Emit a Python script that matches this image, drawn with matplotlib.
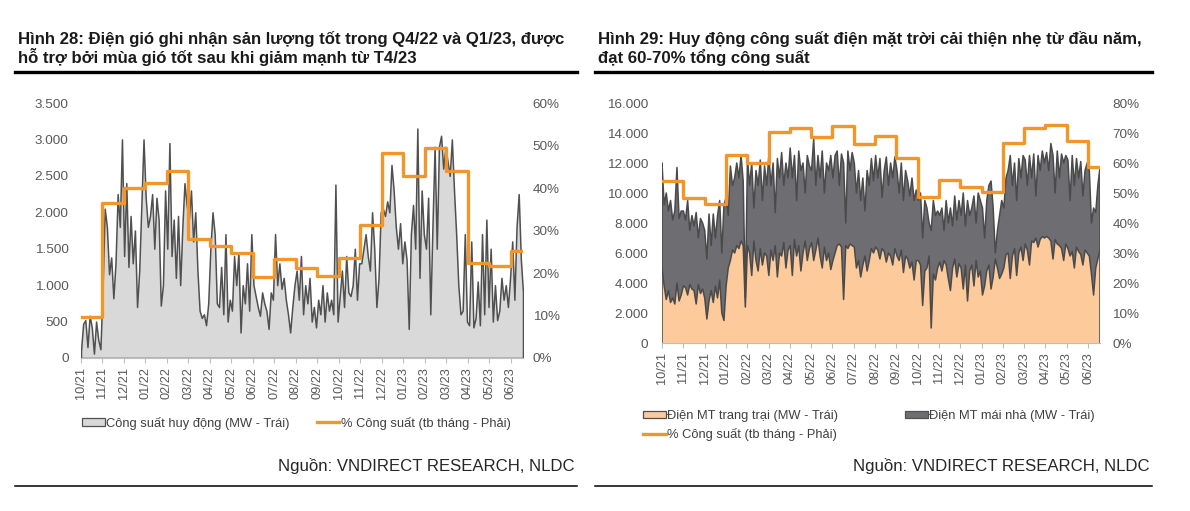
import numpy as np
import matplotlib
matplotlib.use("Agg")
import matplotlib.pyplot as plt
from matplotlib.lines import Line2D
from matplotlib.patches import Patch
from matplotlib.ticker import FuncFormatter, MultipleLocator

plt.rcParams['font.family'] = ['Liberation Sans', 'DejaVu Sans']

# ---------------- DATA ----------------
months = ['10/21', '11/21', '12/21', '01/22', '02/22', '03/22', '04/22', '05/22', '06/22',
          '07/22', '08/22', '09/22', '10/22', '11/22', '12/22', '01/23', '02/23', '03/23',
          '04/23', '05/23', '06/23']

# Wind: mobilised capacity (MW), ~every 3 days from 10/2021 to mid 06/2023
wind_mw = [100, 470, 520, 150, 580, 420, 60, 500, 250, 120,
           950, 2050, 1800, 1150, 1380, 820, 1300, 2250, 1800, 3000,
           1400, 2400, 1250, 1950, 1300, 1750, 700, 1200, 2100, 3000,
           2200, 1800, 1950, 2250, 1500, 2200, 1900, 720, 1000, 2300,
           1500, 2950, 1400, 1900, 1100, 1950, 1000, 1800, 2400, 2100,
           1900, 2300, 1600, 2000, 1200, 650, 550, 600, 450, 750,
           1500, 2000, 1700, 750, 700, 1250, 600, 1700, 500, 800,
           650, 1400, 1000, 1450, 350, 1000, 750, 1300, 650, 1700,
           1000, 850, 700, 580, 900, 750, 650, 400, 900, 800,
           1700, 1000, 1300, 950, 1100, 800, 600, 350, 700, 1000,
           1200, 800, 1400, 600, 1000, 750, 1100, 500, 700, 420,
           800, 600, 1000, 500, 900, 650, 800, 600, 2380, 500,
           850, 1200, 700, 1400, 900, 850, 1000, 1500, 800, 1300,
           1300, 1500, 1700, 1400, 1200, 2000, 1500, 700, 1100, 2000,
           2050, 1950, 2150, 2000, 2650, 2300, 1800, 1500, 1850, 1300,
           1600, 1350, 400, 1700, 2100, 1500, 3150, 1100, 2300, 1700,
           1500, 2200, 600, 1800, 2900, 1500, 2900, 3050, 2600, 2900,
           2700, 2500, 3000, 2300, 1700, 1000, 600, 650, 1700, 500,
           450, 1600, 420, 550, 1050, 450, 1700, 600, 1900, 700,
           1500, 500, 1000, 520, 650, 1100, 800, 1000, 700, 1100,
           1600, 800, 1800, 2250, 1350, 900]

wind_pct = [9.7, 36.5, 40.0, 41.1, 44.0, 27.9, 26.4, 24.6, 19.0, 23.4, 21.1,
            19.3, 23.5, 31.3, 48.2, 42.9, 49.5, 43.9, 22.3, 21.7, 25.1]

# Solar farm (MW)
solar_farm = [5000, 3800, 2900, 3500, 2700, 3000, 2600, 4000, 2800, 3200,
              3800, 3700, 3200, 3900, 3600, 3500, 2600, 3900, 3300, 3600,
              3000, 1600, 2800, 3500, 2700, 3800, 3000, 4200, 2000, 1500,
              3800, 5000, 5500, 6200, 6000, 6500, 6300, 6800, 6500, 2400,
              6500, 6000, 4500, 6800, 5500, 4800, 6300, 5200, 6000, 5800,
              4500, 6200, 5500, 6500, 4400, 6000, 5800, 6700, 5000, 6200,
              6500, 4500, 6900, 5800, 6500, 4800, 6000, 6800, 5500, 6300,
              6700, 5500, 6200, 7000, 5800, 5000, 6400, 5500, 6000, 4900,
              5500, 6000, 6500, 6600, 6400, 2900, 6500, 6300, 6600, 6500,
              6400, 5000, 5500, 4400, 5200, 5800, 4800, 5500, 6300, 6000,
              6400, 6200, 5600, 6300, 6100, 5400, 6000, 5800, 5200, 6300,
              5800, 5500, 6200, 4700, 5800, 5600, 5000, 5400, 4200, 5500,
              5500, 5200, 2500, 4800, 5000, 5800, 1000, 4600, 4200, 5000,
              5400, 4800, 5500, 5200, 4300, 3500, 5000, 5600, 4400, 5300,
              5000, 3600, 5200, 2800, 4800, 5200, 3800, 5500, 4400, 4800,
              3200, 3800, 4800, 5200, 3600, 4400, 5600, 5000, 4300, 4600,
              5000, 5900, 6000, 4300, 5800, 6300, 4500, 6000, 6400, 5500,
              6600, 6200, 5200, 6800, 6700, 7000, 6400, 6900, 7100, 7000,
              7100, 7000, 6800, 5600, 6900, 6600, 6500, 6300, 5500, 6600,
              6300, 5800, 6100, 5000, 6400, 6100, 5900, 5200, 6200, 6000,
              5800, 4600, 3200, 5000, 5600, 6200]

# Solar farm + rooftop (MW, top of stack)
solar_total = [12000, 9200, 10000, 8800, 9500, 8200, 8800, 11700, 8300, 8800,
               8800, 8200, 9500, 7500, 8500, 7800, 8700, 7000, 8300, 8000,
               7500, 5600, 8600, 6500, 8600, 7000, 8500, 9500, 6000, 9200,
               9700, 8500, 11800, 10500, 11000, 12000, 11000, 12500, 10800, 3000,
               12300, 10500, 12000, 9000, 11500, 10500, 12200, 9500, 11800, 10500,
               12500, 10500, 12000, 8700, 12300, 11000, 12700, 10500, 12000, 11000,
               13000, 11000, 12500, 9500, 12800, 11500, 12000, 10000, 12500, 11800,
               11500, 13600, 10500, 12500, 11000, 12800, 10000, 12000, 11500, 12500,
               11000, 12500, 12800, 10500, 12600, 12000, 8000, 12800, 11500, 12700,
               12000, 10000, 11500, 9500, 11000, 8800, 11500, 10500, 12300, 10800,
               12500, 11000, 12300, 9700, 11500, 12400, 10500, 12000, 11000, 12400,
               11500, 10000, 12000, 9500, 11500, 10800, 9800, 11000, 9500, 10200,
               9500, 10000, 7000, 9500, 9000, 8000, 7500, 9500, 8500, 8800,
               8500, 9000, 7500, 9500, 8000, 9000, 7800, 9800, 8200, 9500,
               8500, 10000, 7800, 9500, 8500, 9000, 9800, 8000, 10000, 9500,
               9000, 7000, 9500, 10500, 10800, 9000, 6000, 7500, 8500, 9500,
               9000, 11000, 11500, 12500, 10500, 12000, 9500, 12300, 11000, 12500,
               12200, 10500, 12500, 11000, 12600, 9800, 12500, 11500, 12800, 12000,
               12700, 11500, 13300, 12500, 10000, 12800, 11000, 12600, 12000, 12500,
               12200, 9500, 12500, 10500, 12300, 11000, 12100, 9800, 11500, 12000,
               11500, 8000, 9000, 8700, 10500, 11700]

solar_pct = [53.9, 48.3, 46.4, 62.8, 59.9, 70.2, 71.6, 68.7, 72.5, 66.3, 69.0,
             61.6, 48.7, 54.3, 52.1, 50.4, 66.6, 71.7, 72.6, 67.4, 58.8]

# ---------------- STYLE ----------------
ORANGE = '#F0962A'
LINE_DARK = '#505050'
GREY_LIGHT = '#D9D9D9'
GREY_DARK = '#6E6E72'
PEACH = '#FDCB9B'
TICK_C = '#595959'
END = 20.56  # data ends mid-June 2023 (in month units)
TFS = 9.7    # tick font size

W, H = 1190, 511
fig = plt.figure(figsize=(W / 100, H / 100), dpi=100)


def fx(px):
    return px / W


def fy(py):
    return 1 - py / H


def thousands(v, pos):
    return f"{int(round(v)):,}".replace(",", ".")


def style_axes(ax, axr):
    for a in (ax, axr):
        for s in ('left', 'right', 'top'):
            a.spines[s].set_visible(False)
    axr.spines['bottom'].set_visible(False)
    ax.spines['bottom'].set_color('#BFBFBF')
    ax.spines['bottom'].set_linewidth(0.8)
    ax.tick_params(axis='y', length=0, labelsize=TFS, labelcolor=TICK_C, pad=9)
    axr.tick_params(axis='y', length=0, labelsize=TFS, labelcolor=TICK_C, pad=7)
    ax.set_xticks(np.arange(len(months)))
    ax.set_xticklabels(months, rotation=90, fontsize=9.2, color=TICK_C)
    ax.tick_params(axis='x', length=3.5, color='#BFBFBF', pad=3)
    ax.set_xlim(0, END)
    axr.yaxis.set_major_formatter(FuncFormatter(lambda v, p: f"{int(round(v))}%"))


# ---------------- LEFT CHART (wind) ----------------
ax1 = fig.add_axes([fx(81), fy(358), fx(523 - 81), (358 - 103) / H])
x_w = np.linspace(0, END, len(wind_mw))
ax1.fill_between(x_w, wind_mw, 0, facecolor=GREY_LIGHT, edgecolor=LINE_DARK, linewidth=1.1)
ax1.set_ylim(0, 3500)
ax1.yaxis.set_major_locator(MultipleLocator(500))
ax1.yaxis.set_major_formatter(FuncFormatter(thousands))
ax1r = ax1.twinx()
xs = list(range(len(wind_pct))) + [END]
ax1r.plot(xs, wind_pct + [wind_pct[-1]], drawstyle='steps-post', color=ORANGE, lw=2.4)
ax1r.set_ylim(0, 60)
ax1r.yaxis.set_major_locator(MultipleLocator(10))
style_axes(ax1, ax1r)

# ---------------- RIGHT CHART (solar) ----------------
ax2 = fig.add_axes([fx(662), fy(343), fx(1100 - 662), (343 - 103) / H])
x_s = np.linspace(0, END, len(solar_farm))
ax2.fill_between(x_s, solar_farm, 0, facecolor=PEACH, edgecolor='none')
ax2.fill_between(x_s, solar_total, solar_farm, facecolor=GREY_DARK, edgecolor='none')
ax2.plot(x_s, solar_farm, color='#4A4A4A', lw=1.1)
ax2.plot(x_s, solar_total, color='#4A4A4A', lw=1.1)
ax2.vlines([x_s[0], x_s[-1]], 0, [solar_total[0], solar_total[-1]], color='#4A4A4A', lw=1.1)
ax2.set_ylim(0, 16000)
ax2.yaxis.set_major_locator(MultipleLocator(2000))
ax2.yaxis.set_major_formatter(FuncFormatter(thousands))
ax2r = ax2.twinx()
ax2r.plot(xs, solar_pct + [solar_pct[-1]], drawstyle='steps-post', color=ORANGE, lw=2.4)
ax2r.set_ylim(0, 80)
ax2r.yaxis.set_major_locator(MultipleLocator(10))
style_axes(ax2, ax2r)
ax2.tick_params(axis='y', pad=10)
ax2r.tick_params(axis='y', pad=9)

# ---------------- TITLES / RULES ----------------
title_kw = dict(fontsize=12.1, fontweight='bold', color='#1A1A1A', va='baseline', ha='left')
fig.text(fx(18), fy(44), "Hình 28: Điện gió ghi nhận sản lượng tốt trong Q4/22 và Q1/23, được", **title_kw)
fig.text(fx(18), fy(63), "hỗ trợ bởi mùa gió tốt sau khi giảm mạnh từ T4/23", **title_kw)
fig.text(fx(598), fy(44), "Hình 29: Huy động công suất điện mặt trời cải thiện nhẹ từ đầu năm,", **title_kw)
fig.text(fx(598), fy(63), "đạt 60-70% tổng công suất", **title_kw)

for x0, x1 in [(15, 577), (595, 1152)]:
    fig.add_artist(Line2D([fx(x0), fx(x1)], [fy(72), fy(72)], color='black', lw=2.4))
    fig.add_artist(Line2D([fx(x0), fx(x1)], [fy(486), fy(486)], color='black', lw=1.1))

src_kw = dict(fontsize=12.1, color='#262626', ha='right', va='center')
fig.text(fx(575), fy(466), "Nguồn: VNDIRECT RESEARCH, NLDC", **src_kw)
fig.text(fx(1150), fy(466), "Nguồn: VNDIRECT RESEARCH, NLDC", **src_kw)

# ---------------- LEGENDS ----------------
leg_kw = dict(frameon=False, fontsize=9.3, handlelength=1.75, handleheight=0.55,
              handletextpad=0.12, labelcolor='#404040', borderpad=0, borderaxespad=0)
h1 = [Patch(facecolor=GREY_LIGHT, edgecolor=LINE_DARK, lw=0.9),
      Line2D([], [], color=ORANGE, lw=2.4)]
fig.legend(h1, ["Công suất huy động (MW - Trái)", "% Công suất (tb tháng - Phải)"],
           loc='center left', bbox_to_anchor=(fx(82), fy(423)), ncol=2,
           columnspacing=2.1, **leg_kw)

h2 = [Patch(facecolor=PEACH, edgecolor=LINE_DARK, lw=0.9),
      Line2D([], [], color=ORANGE, lw=2.4),
      Patch(facecolor=GREY_DARK, edgecolor=LINE_DARK, lw=0.9)]
fig.legend(h2, ["Điện MT trang trại (MW - Trái)", "% Công suất (tb tháng - Phải)",
                "Điện MT mái nhà (MW - Trái)"],
           loc='upper left', bbox_to_anchor=(fx(643), fy(410)), ncol=2,
           columnspacing=5.2, labelspacing=0.45, **leg_kw)

fig.savefig("out.png", dpi=100)
